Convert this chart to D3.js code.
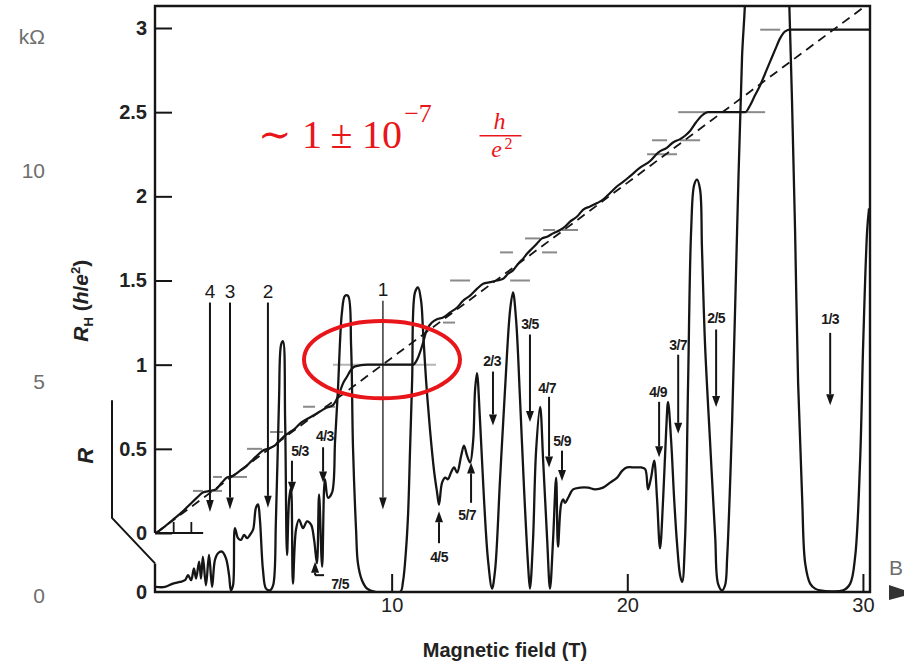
<!DOCTYPE html>
<html lang="en">
<head>
<meta charset="UTF-8">
<title>Quantum Hall</title>
<script src="https://d3js.org/d3.v7.min.js"></script>
<style>
  body { margin: 0; background: #fff; }
  svg { display: block; }
</style>
</head>
<body>
<svg width="904" height="663"></svg>
<script>
// longitudinal resistance R (arbitrary units) vs magnetic field B (T)
const rTrace = [
  [0,0.03],[0.38,0.03],[0.72,0.05],[1.02,0.06],[1.23,0.07],[1.36,0.10],[1.49,0.07],[1.61,0.14],
  [1.70,0.08],[1.83,0.18],[1.91,0.08],[1.99,0.21],[2.12,0.04],[2.25,0.22],[2.38,0.03],[2.50,0.19],
  [2.63,0.23],[2.80,0.24],[2.97,0.20],[3.10,0.10],[3.18,0.01],[3.27,0.04],[3.35,0.38],[3.48,0.32],
  [3.61,0.31],[3.74,0.34],[3.86,0.32],[3.99,0.34],[4.12,0.37],[4.24,0.50],[4.33,0.52],[4.41,0.43],
  [4.54,0.13],[4.67,0.02],[4.84,0.01],[4.97,0.04],[5.09,0.43],[5.22,1.14],[5.31,1.47],[5.39,1.49],
  [5.48,1.02],[5.56,0.22],[5.65,0.55],[5.73,0.62],[5.81,0.05],[5.94,0.37],[6.07,0.43],[6.24,0.38],
  [6.41,0.42],[6.58,0.40],[6.71,0.31],[6.83,0.17],[6.92,0.58],[7.05,0.15],[7.17,0.67],[7.30,0.56],
  [7.47,0.59],[7.60,0.90],[7.72,1.20],[7.89,1.66],[8.02,1.76],[8.15,1.76],[8.28,1.46],[8.36,0.86],
  [8.49,0.37],[8.57,0.17],[8.74,0.07],[8.96,0.02],[9.30,0],[10.36,0],[10.48,0.06],[10.61,0.25],
  [10.70,0.47],[10.78,0.84],[10.87,1.26],[10.99,1.78],[11.12,1.81],[11.25,1.73],[11.33,1.56],
  [11.46,1.26],[11.63,0.96],[11.80,0.72],[11.93,0.59],[12.01,0.52],[12.14,0.65],[12.27,0.68],
  [12.39,0.67],[12.52,0.71],[12.65,0.74],[12.78,0.71],[12.95,0.81],[13.07,0.87],[13.20,0.81],
  [13.33,0.77],[13.46,0.90],[13.54,1.20],[13.62,1.30],[13.75,1.02],[13.92,0.55],[14.09,0.19],
  [14.26,0.02],[14.39,0.13],[14.60,0.67],[14.81,1.20],[15.03,1.68],[15.15,1.78],[15.28,1.62],
  [15.45,1.14],[15.62,0.61],[15.79,0.16],[15.87,0.02],[16.00,0.31],[16.13,0.84],[16.30,1.10],
  [16.43,0.78],[16.60,0.31],[16.72,0.02],[16.85,0.31],[16.98,0.68],[17.06,0.27],[17.19,0.52],
  [17.28,0.55],[17.36,0.53],[17.49,0.56],[17.70,0.61],[18.00,0.62],[18.34,0.62],[18.63,0.61],
  [18.97,0.62],[19.27,0.65],[19.57,0.68],[19.78,0.72],[19.99,0.74],[20.33,0.74],[20.59,0.74],
  [20.76,0.73],[20.88,0.61],[21.01,0.68],[21.14,0.78],[21.26,0.56],[21.39,0.26],[21.52,0.55],
  [21.65,0.96],[21.73,1.13],[21.86,0.90],[21.99,0.55],[22.11,0.29],[22.24,0.10],[22.33,0.06],
  [22.45,0.31],[22.58,1.24],[22.71,2.15],[22.84,2.42],[22.96,2.45],[23.09,2.39],[23.17,2.04],
  [23.30,1.47],[23.51,0.90],[23.73,0.33],[23.85,0.05],[24.02,0.01],[24.15,0.04],[24.24,0.21],
  [24.45,1.02],[24.66,2.15],[24.87,3.18],[25.00,3.52],[25.13,4.5],[26.70,4.5],[26.87,3.52],
  [26.99,2.92],[27.12,2.15],[27.25,1.24],[27.42,0.56],[27.55,0.17],[27.76,0.05],[27.97,0.02],
  [28.18,0.01],[29.16,0.01],[29.46,0.05],[29.67,0.21],[29.88,0.78],[30.01,1.47],[30.18,2.15],
  [30.26,2.28]
];

// Hall resistance R_H (h/e^2) vs B (T)
const hallTrace = [
  [0,0],[0.38,0.04],[0.81,0.09],[1.15,0.13],[1.44,0.17],[1.74,0.21],[1.99,0.24],[2.29,0.25],
  [2.55,0.26],[2.80,0.30],[3.01,0.33],[3.27,0.34],[3.57,0.37],[3.86,0.40],[4.07,0.43],[4.29,0.46],
  [4.54,0.49],[4.75,0.50],[5.05,0.52],[5.26,0.55],[5.48,0.58],[5.69,0.60],[5.90,0.62],[6.11,0.65],
  [6.45,0.68],[6.83,0.71],[7.17,0.74],[7.51,0.76],[7.72,0.81],[7.94,0.89],[8.11,0.93],[8.23,0.96],
  [8.45,0.99],[8.96,1.00],[10.91,1.00],[11.08,1.03],[11.29,1.11],[11.50,1.21],[11.71,1.25],
  [11.93,1.27],[12.18,1.28],[12.48,1.31],[12.78,1.34],[13.03,1.38],[13.33,1.41],[13.62,1.45],
  [13.88,1.48],[14.18,1.49],[14.47,1.50],[14.73,1.51],[14.94,1.54],[15.15,1.56],[15.37,1.60],
  [15.58,1.63],[15.75,1.66],[15.96,1.69],[16.17,1.72],[16.38,1.75],[16.60,1.76],[16.85,1.78],
  [17.15,1.80],[17.36,1.82],[17.57,1.85],[17.87,1.88],[18.12,1.92],[18.42,1.94],[18.72,1.96],
  [18.97,1.98],[19.27,2.02],[19.57,2.06],[19.86,2.09],[20.12,2.12],[20.54,2.17],[20.97,2.21],
  [21.31,2.26],[21.69,2.29],[21.94,2.32],[22.24,2.34],[22.45,2.36],[22.67,2.39],[22.92,2.44],
  [23.17,2.48],[23.43,2.50],[25.00,2.50],[25.21,2.54],[25.42,2.60],[25.64,2.66],[25.85,2.73],
  [26.06,2.80],[26.27,2.87],[26.49,2.94],[26.70,2.98],[26.91,2.99],[30.31,2.99]
];

// classical Hall line
const classical = [[0,0],[30,3.12]];

// expected plateau values (grey dashes)
const plateauRH   = [0.25,0.25,0.333,0.333,0.5,0.6,0.75,0.75,1.0,1.25,1.5,1.5,1.667,1.667,1.75,1.8,1.8,2.25,2.333,2.333,2.5,2.5,2.99];
const plateauFrom = [1.57,2.21,2.42,3.14,3.86,4.84,6.24,7.17,7.51,12.18,12.48,15.03,14.60,16.38,15.66,16.43,17.23,20.84,21.05,22.24,22.16,24.79,25.64];
const plateauTo   = [1.99,2.80,2.80,3.86,4.50,5.39,6.75,7.60,11.88,12.69,13.33,15.87,15.15,17.02,16.30,16.94,17.91,22.11,21.69,23.09,23.39,25.85,26.49];

// filling factor arrows (R units)
const arrowLabels = ["4","3","2","1","5/3","4/3","2/3","3/5","4/7","5/9","4/9","3/7","2/5","1/3","4/5","5/7","7/5"];
const arrowB = [2.29,3.14,4.75,9.63,5.77,7.09,14.30,15.87,16.68,17.23,21.35,22.16,23.77,28.61,12.01,13.37,6.75];
const labelB = [2.29,3.14,4.75,9.63,6.11,7.17,14.26,15.87,16.60,17.23,21.31,22.16,23.77,28.61,12.01,13.20,7.81];
const labelR = [1.79,1.79,1.79,1.80,0.84,0.93,1.37,1.59,1.21,0.90,1.19,1.47,1.63,1.62,0.21,0.46,0.05];
const tailR  = [1.72,1.72,1.72,1.73,0.78,0.86,1.31,1.53,1.16,0.84,1.13,1.41,1.56,1.54,0.29,0.53,0.10];
const tipR   = [0.475,0.49,0.50,0.49,0.59,0.65,0.99,1.01,0.74,0.66,0.80,0.94,1.10,1.11,0.48,0.77,0.18];

const xTicks = [10,20,30];
const yTicks = [0,0.5,1,1.5,2,2.5,3];
const insetTicks = [0.75,1.5];
const oldAxisLabels = ["kΩ","10","5","0"];
const oldAxisRH = [2.95,2.15,0.9,-0.37];

// red precision note: pieces placed at (B, R_H)
const notePieces = ["∼","1","±","10"];
const noteB = [4.33,6.20,7.40,8.74];

const svg = d3.select("svg");
const ink = "#151515";

const x = d3.scaleLinear().domain([0,30.3]).range([156,870]);
const yH = d3.scaleLinear().domain([0,3]).range([533,28]);
const yR = d3.scaleLinear().domain([0,3.5]).range([592,3]);

const plotL = 155, plotR = 870, plotT = 6, plotB = 592;

svg.append("rect").attr("width",904).attr("height",663).attr("fill","#fff");

svg.append("clipPath").attr("id","plot")
  .append("rect").attr("x",plotL).attr("y",plotT).attr("width",plotR-plotL).attr("height",plotB-plotT);

// grey plateau dashes
svg.append("g").selectAll("line").data(plateauRH).join("line")
  .attr("x1",(d,i)=>x(plateauFrom[i])).attr("x2",(d,i)=>x(plateauTo[i]))
  .attr("y1",d=>yH(d)).attr("y2",d=>yH(d))
  .attr("stroke",d=>d===1 ? "#b4b4b4" : "#8a8a8a")
  .attr("stroke-width",2);

// classical dashed line
svg.append("path").datum(classical)
  .attr("clip-path","url(#plot)")
  .attr("fill","none").attr("stroke",ink).attr("stroke-width",1.8)
  .attr("stroke-dasharray","9,6")
  .attr("d",d3.line().x(d=>x(d[0])).y(d=>yH(d[1])));

// Hall trace
svg.append("path").datum(hallTrace)
  .attr("clip-path","url(#plot)")
  .attr("fill","none").attr("stroke",ink).attr("stroke-width",2.2)
  .attr("d",d3.line().x(d=>x(d[0])).y(d=>yH(d[1])).curve(d3.curveMonotoneX));

// longitudinal trace
svg.append("path").datum(rTrace)
  .attr("clip-path","url(#plot)")
  .attr("fill","none").attr("stroke",ink).attr("stroke-width",2.3)
  .attr("stroke-linejoin","round")
  .attr("d",d3.line().x(d=>x(d[0])).y(d=>yR(d[1])).curve(d3.curveCatmullRom.alpha(0.5)));

// frame
const frame = svg.append("g").attr("fill","none").attr("stroke",ink).attr("stroke-width",2.4);
frame.append("path").attr("d",`M${plotL},${yH(0)}V${plotT}H${plotR}V${plotB}H${plotL}V${yR(0.17)}`);
frame.append("path").attr("d",`M${plotL-43},${yR(1.14)}V${yR(0.44)}L${plotL},${yR(0.17)}`).attr("stroke-width",2);
frame.append("path").attr("d",`M${plotL},${yH(0)}H${x(2.0)}`).attr("stroke-width",2);
svg.append("g").selectAll("line").data(insetTicks).join("line")
  .attr("x1",d=>x(d)).attr("x2",d=>x(d)).attr("y1",yH(0)).attr("y2",yH(0)-11)
  .attr("stroke",ink).attr("stroke-width",1.8);

// axes
const xAxis = svg.append("g").attr("transform",`translate(0,${plotB})`)
  .call(d3.axisBottom(x).tickValues(xTicks).tickSize(-18).tickPadding(6).tickSizeOuter(0));
xAxis.select(".domain").remove();
xAxis.selectAll("line").attr("stroke",ink).attr("stroke-width",2);
xAxis.selectAll("text").attr("font-family","Liberation Sans, Arial, sans-serif")
  .attr("font-size",20).attr("fill","#222");

const yAxis = svg.append("g").attr("transform",`translate(${plotL},0)`)
  .call(d3.axisLeft(yH).tickValues(yTicks).tickSize(-17).tickPadding(8).tickSizeOuter(0).tickFormat(d=>String(d)));
yAxis.select(".domain").remove();
yAxis.selectAll("line").attr("stroke",ink).attr("stroke-width",2);
yAxis.selectAll("text").attr("font-family","Liberation Sans, Arial, sans-serif")
  .attr("font-size",20).attr("font-weight","bold").attr("fill","#222");

svg.append("text").attr("x",plotL-8).attr("y",yR(0)).attr("dy","0.35em")
  .attr("text-anchor","end").attr("font-family","Liberation Sans, Arial, sans-serif")
  .attr("font-size",20).attr("font-weight","bold").attr("fill","#222").text("0");

// arrows
const ag = svg.append("g");
arrowLabels.forEach((lab,i)=>{
  const ax = x(arrowB[i]);
  const y0 = yR(tailR[i]), y1 = yR(tipR[i]);
  const dir = Math.sign(y1-y0);
  const big = i < 4;
  const hl = big ? 12 : 11, hw = big ? 3.8 : 4;
  ag.append("line").attr("x1",ax).attr("x2",ax).attr("y1",y0).attr("y2",y1-dir*hl)
    .attr("stroke",ink).attr("stroke-width", i===3 ? 1.3 : 2);
  ag.append("path").attr("d",`M${ax-hw},${y1-dir*hl}L${ax+hw},${y1-dir*hl}L${ax},${y1}Z`).attr("fill",ink);
  if (lab === "7/5") {
    ag.append("line").attr("x1",ax).attr("x2",ax+9).attr("y1",y0).attr("y2",y0)
      .attr("stroke",ink).attr("stroke-width",2);
  }
  ag.append("text").attr("x",x(labelB[i])).attr("y",yR(labelR[i])).attr("dy","0.36em")
    .attr("text-anchor","middle")
    .attr("font-family", big ? "Liberation Sans, Arial, sans-serif" : "Liberation Sans Narrow, Liberation Sans, Arial, sans-serif")
    .attr("font-size", big ? 19 : 14)
    .attr("font-weight", big ? "normal" : "bold")
    .attr("letter-spacing", big ? 0 : -0.6)
    .attr("fill","#1a1a1a").text(lab);
});

// axis titles
svg.append("text").attr("x",505).attr("y",657).attr("text-anchor","middle")
  .attr("font-family","Liberation Sans, Arial, sans-serif").attr("font-size",20)
  .attr("font-weight","bold").attr("fill","#222").text("Magnetic field (T)");

const rh = svg.append("text").attr("transform",`translate(88,${yH(1.38)}) rotate(-90)`)
  .attr("text-anchor","middle").attr("font-family","Liberation Sans, Arial, sans-serif")
  .attr("font-size",21).attr("font-weight","bold").attr("fill","#222");
rh.append("tspan").attr("font-style","italic").text("R");
rh.append("tspan").attr("font-size",13).attr("dy",5).text("H");
rh.append("tspan").attr("dy",-5).text(" (");
rh.append("tspan").attr("font-style","italic").text("h");
rh.append("tspan").text("/");
rh.append("tspan").attr("font-style","italic").text("e");
rh.append("tspan").attr("font-size",13).attr("dy",-8).text("2");
rh.append("tspan").attr("dy",8).text(")");

svg.append("text").attr("transform",`translate(93,${yR(0.81)}) rotate(-90)`)
  .attr("text-anchor","middle").attr("font-family","Liberation Sans, Arial, sans-serif")
  .attr("font-size",22).attr("font-weight","bold").attr("font-style","italic")
  .attr("fill","#222").text("R");

// faded labels of the cropped neighbouring axis
svg.append("g").selectAll("text").data(oldAxisLabels).join("text")
  .attr("x",45).attr("y",(d,i)=>yH(oldAxisRH[i])).attr("dy","0.35em")
  .attr("text-anchor","end").attr("font-family","Liberation Sans, Arial, sans-serif")
  .attr("font-size",21).attr("fill","#6e6e6e").text(d=>d);

svg.append("text").attr("x",889).attr("y",yR(0.1)).attr("font-family","Liberation Sans, Arial, sans-serif")
  .attr("font-size",21).attr("fill","#6e6e6e").text("B");
svg.append("path").attr("d",`M889,${yR(0)-7}L904,${yR(0)-2}L904,${yR(0)+4}L889,${yR(0)+8}Z`).attr("fill","#333");

// red annotation
const red = "#e8161b";
const serif = "Liberation Serif, DejaVu Serif, serif";
svg.append("g").selectAll("text").data(notePieces).join("text")
  .attr("x",(d,i)=>x(noteB[i])).attr("y",yH(2.29))
  .attr("font-family",serif).attr("font-size",40).attr("fill",red).text(d=>d);
svg.append("text").attr("x",x(10.53)).attr("y",yH(2.44))
  .attr("font-family",serif).attr("font-size",26).attr("fill",red).text("−7");
const fx = x(14.62), fy = yH(2.36);
svg.append("line").attr("x1",fx-21).attr("x2",fx+21).attr("y1",fy).attr("y2",fy)
  .attr("stroke",red).attr("stroke-width",1.6);
svg.append("text").attr("x",fx-1).attr("y",fy-7).attr("text-anchor","middle")
  .attr("font-family",serif).attr("font-style","italic")
  .attr("font-size",24).attr("fill",red).text("h");
svg.append("text").attr("x",fx-4).attr("y",fy+21).attr("text-anchor","middle")
  .attr("font-family",serif).attr("font-style","italic")
  .attr("font-size",24).attr("fill",red).text("e");
svg.append("text").attr("x",fx+4).attr("y",fy+13)
  .attr("font-family",serif).attr("font-size",16).attr("fill",red).text("2");

svg.append("ellipse").attr("cx",x(9.59)).attr("cy",yH(1.03))
  .attr("rx",x(9.59+3.31)-x(9.59)).attr("ry",yH(0.8)-yH(1.03))
  .attr("fill","none").attr("stroke",red).attr("stroke-width",4);
</script>
</body>
</html>
